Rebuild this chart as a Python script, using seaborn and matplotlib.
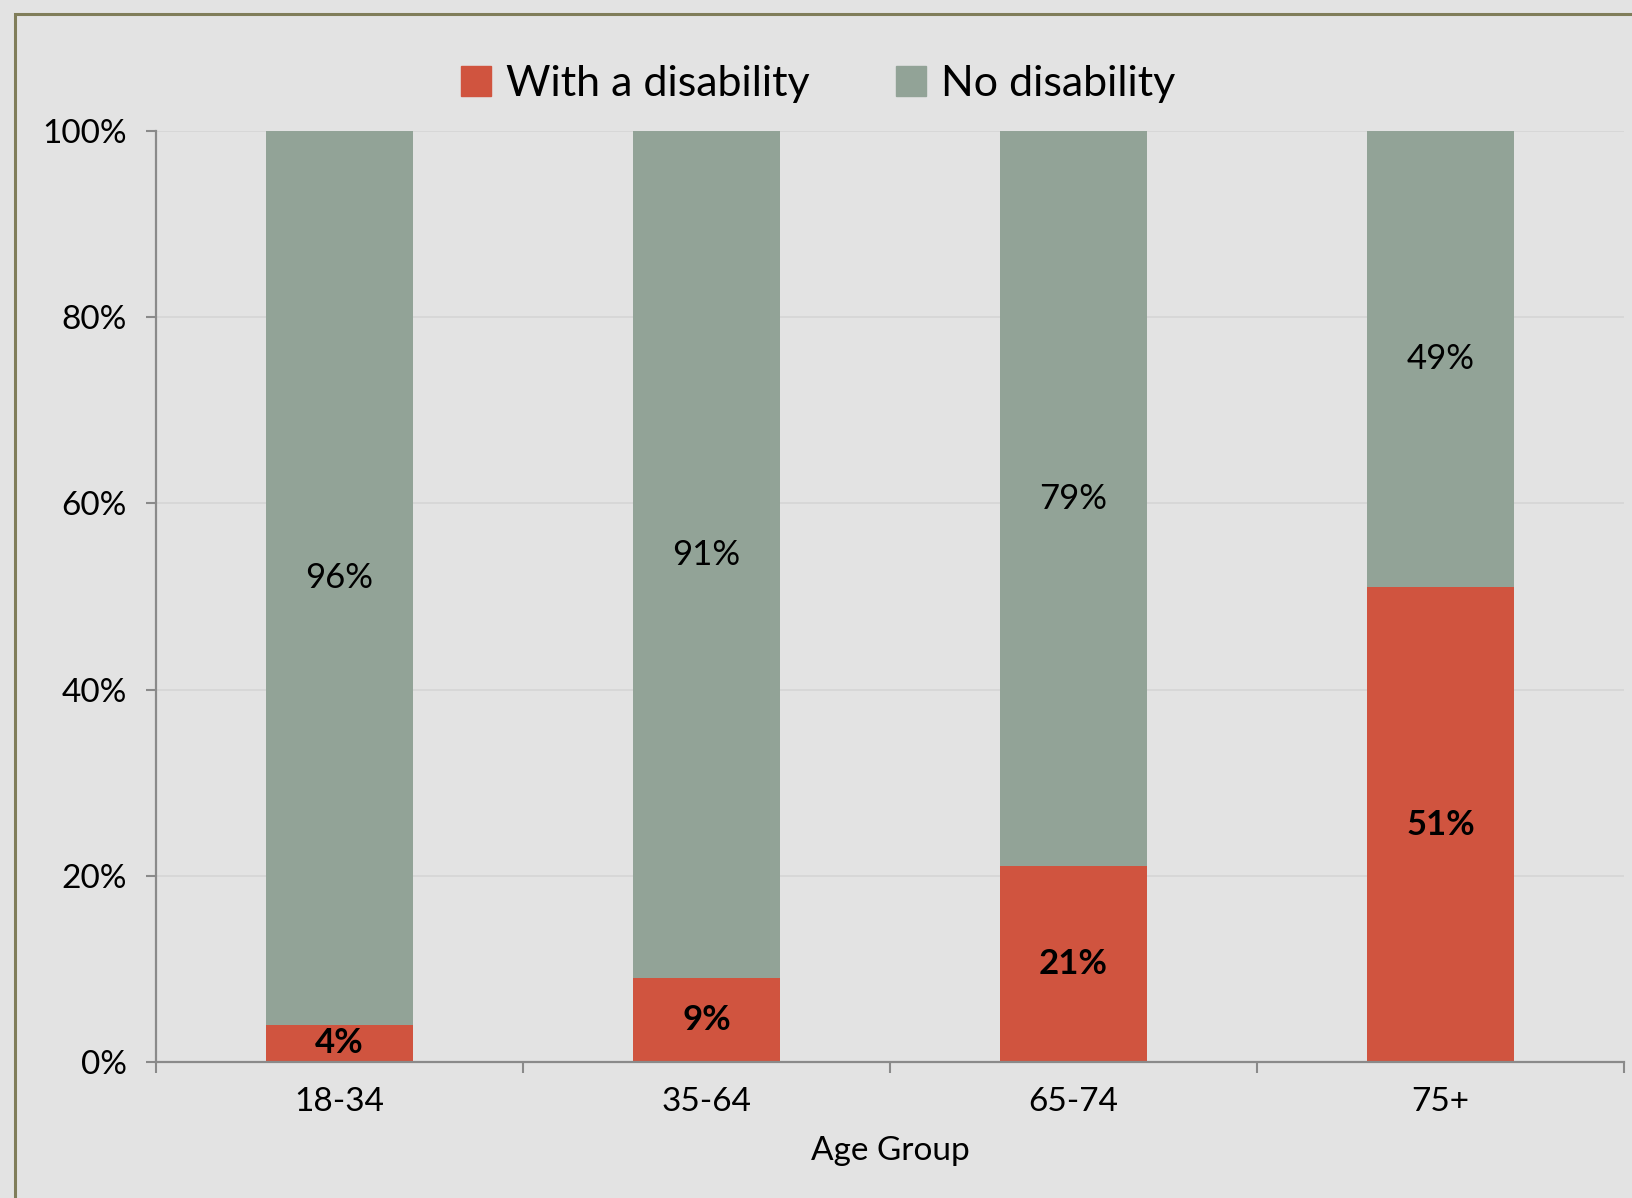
import matplotlib
matplotlib.use("Agg")
import matplotlib.pyplot as plt
from matplotlib.patches import Rectangle
from matplotlib.ticker import FixedLocator, PercentFormatter
import pandas as pd
import seaborn as sns

age_groups = ["18-34", "35-64", "65-74", "75+"]
with_disability = [4, 9, 21, 51]
no_disability = [96, 91, 79, 49]
series_names = ["With a disability", "No disability"]
y_ticks = [0, 20, 40, 60, 80, 100]

RED = "#d0543f"
GREEN = "#92a397"
BG = "#e3e3e3"

sns.set_theme(style="white")
plt.rcParams["font.family"] = ["Lato", "DejaVu Sans"]
plt.rcParams["text.color"] = "black"

df = pd.DataFrame({
    "age": age_groups,
    "with": with_disability,
    "no": no_disability,
})
df["total"] = df["with"] + df["no"]

fig = plt.figure(figsize=(16.32, 11.98), dpi=100, facecolor=BG)
ax = fig.add_axes([156 / 1632, 1 - 1062 / 1198, (1624 - 156) / 1632, (1062 - 131) / 1198])
ax.set_facecolor(BG)

# stacked bars: full-height grey bar underneath, red share drawn on top
sns.barplot(data=df, x="age", y="total", color=GREEN, width=0.4, saturation=1,
            ax=ax, edgecolor="none")
sns.barplot(data=df, x="age", y="with", color=RED, width=0.4, saturation=1,
            ax=ax, edgecolor="none")

ax.set_xlim(-0.5, len(age_groups) - 0.5)
ax.set_ylim(0, 100)
ax.yaxis.set_major_locator(FixedLocator(y_ticks))
ax.yaxis.set_major_formatter(PercentFormatter(decimals=0))
ax.grid(axis="y", color="#d5d5d5", linewidth=1.2)
ax.set_axisbelow(True)

for side in ["top", "right"]:
    ax.spines[side].set_visible(False)
for side in ["left", "bottom"]:
    ax.spines[side].set_color("#8a8a8a")
    ax.spines[side].set_linewidth(1.6)

ax.tick_params(axis="y", which="major", length=7, width=1.5, color="#8a8a8a",
               labelsize=24, pad=14, labelcolor="black", left=True)
ax.xaxis.set_minor_locator(FixedLocator([i - 0.5 for i in range(len(age_groups) + 1)]))
ax.tick_params(axis="x", which="major", length=0, labelsize=24, pad=18, labelcolor="black")
ax.tick_params(axis="x", which="minor", length=8, width=1.5, color="#8a8a8a", bottom=True)

ax.set_xlabel("Age Group", fontsize=24, labelpad=14, color="black")
ax.set_ylabel("")

# value labels centred in each segment
for i, (w, n) in enumerate(zip(with_disability, no_disability)):
    ax.text(i, w / 2, f"{w}%", ha="center", va="center", fontsize=25,
            fontweight="bold", color="black")
    ax.text(i, w + n / 2, f"{n}%", ha="center", va="center", fontsize=25,
            color="black")

# legend: red series first
handles = [Rectangle((0, 0), 1, 1, color=RED), Rectangle((0, 0), 1, 1, color=GREEN)]
leg = fig.legend(handles, series_names, loc="center", bbox_to_anchor=(818 / 1632, 1 - 84 / 1198),
                 ncol=2, frameon=False, fontsize=31, handlelength=0.7, handleheight=0.7,
                 handletextpad=0.35, columnspacing=2.0, labelcolor="black")

# slide frame along top and left edges
frame = Rectangle((15 / 1632, -0.1), 1.2, 1.1 - 14 / 1198, transform=fig.transFigure,
                  fill=False, edgecolor="#807d5a", linewidth=2.2, clip_on=False)
fig.patches.append(frame)

fig.savefig("out.png", dpi=100, facecolor=BG)
